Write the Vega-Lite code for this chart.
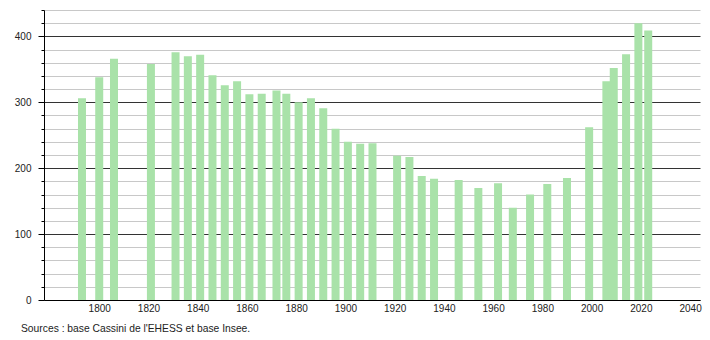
{
  "$schema": "https://vega.github.io/schema/vega-lite/v6.json",
  "width": 656,
  "height": 290,
  "autosize": "none",
  "padding": {"left": 44, "top": 10, "right": 10, "bottom": 40},
  "background": "white",
  "config": {"view": {"stroke": null}, "font": "Liberation Sans"},
  "title": {
    "text": "Sources : base Cassini de l'EHESS et base Insee.",
    "orient": "bottom",
    "anchor": "start",
    "frame": "group",
    "dx": -23,
    "offset": 11,
    "fontSize": 10.3,
    "fontWeight": "normal",
    "color": "#222"
  },
  "data": {
    "values": [
      {"year": 1793, "pop": 306},
      {"year": 1800, "pop": 338},
      {"year": 1806, "pop": 366},
      {"year": 1821, "pop": 358},
      {"year": 1831, "pop": 376},
      {"year": 1836, "pop": 370},
      {"year": 1841, "pop": 372},
      {"year": 1846, "pop": 341},
      {"year": 1851, "pop": 326},
      {"year": 1856, "pop": 332},
      {"year": 1861, "pop": 312},
      {"year": 1866, "pop": 313},
      {"year": 1872, "pop": 318},
      {"year": 1876, "pop": 313},
      {"year": 1881, "pop": 300},
      {"year": 1886, "pop": 306},
      {"year": 1891, "pop": 291},
      {"year": 1896, "pop": 260},
      {"year": 1901, "pop": 240},
      {"year": 1906, "pop": 237},
      {"year": 1911, "pop": 238},
      {"year": 1921, "pop": 219},
      {"year": 1926, "pop": 217},
      {"year": 1931, "pop": 188},
      {"year": 1936, "pop": 184},
      {"year": 1946, "pop": 182},
      {"year": 1954, "pop": 170},
      {"year": 1962, "pop": 177},
      {"year": 1968, "pop": 140},
      {"year": 1975, "pop": 160},
      {"year": 1982, "pop": 176},
      {"year": 1990, "pop": 185},
      {"year": 1999, "pop": 262},
      {"year": 2006, "pop": 332},
      {"year": 2009, "pop": 352},
      {"year": 2014, "pop": 373},
      {"year": 2019, "pop": 420},
      {"year": 2023, "pop": 409}
    ]
  },
  "mark": {"type": "bar", "size": 8, "color": "#a9e2a9"},
  "encoding": {
    "x": {
      "field": "year",
      "type": "quantitative",
      "scale": {"domain": [1779.6, 2042], "nice": false, "zero": false},
      "axis": {
        "title": null,
        "values": [1800, 1820, 1840, 1860, 1880, 1900, 1920, 1940, 1960, 1980, 2000, 2020, 2040],
        "format": "d",
        "ticks": false,
        "labelPadding": 3,
        "labelFontSize": 10,
        "labelColor": "#222",
        "domainColor": "#000",
        "grid": false,
        "labelFlush": false
      }
    },
    "y": {
      "field": "pop",
      "type": "quantitative",
      "scale": {"domain": [0, 440], "nice": false},
      "axis": {
        "title": null,
        "values": [0, 20, 40, 60, 80, 100, 120, 140, 160, 180, 200, 220, 240, 260, 280, 300, 320, 340, 360, 380, 400, 420, 440],
        "labelExpr": "datum.value % 100 === 0 ? datum.label : ''",
        "tickSize": {"condition": {"test": "datum.value % 100 === 0", "value": 6}, "value": 3},
        "tickColor": "#000",
        "domainColor": "#000",
        "labelPadding": 7,
        "labelFontSize": 10,
        "labelColor": "#222",
        "grid": true,
        "gridColor": {"condition": {"test": "datum.value % 100 === 0", "value": "#333"}, "value": "#c8c8c8"},
        "gridOpacity": 1,
        "labelFlush": false
      }
    }
  }
}
